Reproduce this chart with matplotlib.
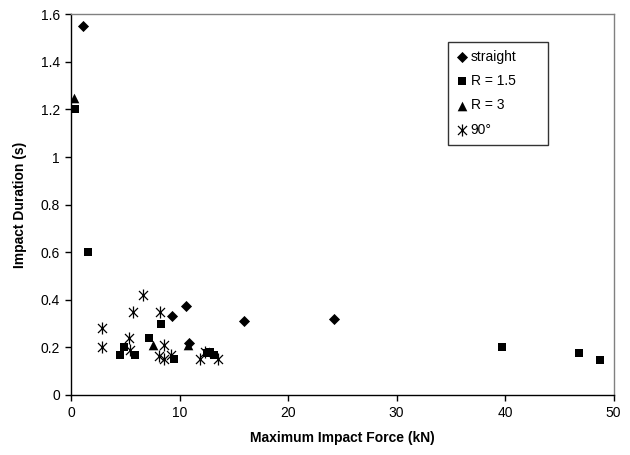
import matplotlib
matplotlib.use("Agg")
import matplotlib.pyplot as plt
from matplotlib.path import Path
from matplotlib.ticker import FuncFormatter

plt.rcParams['font.family'] = ['Liberation Sans', 'DejaVu Sans']

straight_x = [1.13, 9.33, 10.6, 10.9, 15.9, 24.2]
straight_y = [1.55, 0.33, 0.375, 0.22, 0.31, 0.32]

r15_x = [0.37, 1.54, 4.54, 4.91, 5.87, 7.19, 8.26, 9.49, 12.5, 12.8, 13.2, 39.7, 46.8, 48.7]
r15_y = [1.20, 0.60, 0.17, 0.20, 0.17, 0.24, 0.30, 0.15, 0.175, 0.18, 0.17, 0.20, 0.178, 0.147]

r3_x = [0.28, 7.58, 10.75]
r3_y = [1.25, 0.21, 0.21]

d90_x = [2.88, 2.88, 6.61, 5.74, 8.2, 5.37, 5.44, 8.57, 8.1, 8.57, 9.19, 11.9, 12.35, 13.57]
d90_y = [0.28, 0.20, 0.42, 0.35, 0.35, 0.24, 0.19, 0.21, 0.165, 0.15, 0.17, 0.15, 0.18, 0.15]

labels = ['straight', 'R = 1.5', 'R = 3', '90°']

star = Path([(0, -1), (0, 1), (-0.75, -0.75), (0.75, 0.75), (-0.75, 0.75), (0.75, -0.75)],
            [Path.MOVETO, Path.LINETO, Path.MOVETO, Path.LINETO, Path.MOVETO, Path.LINETO])

fig = plt.figure(figsize=(6.3, 4.55), dpi=100)
ax = fig.add_axes([0.1127, 0.1319, 0.974 - 0.1127, 0.9686 - 0.1319])

ax.scatter(straight_x, straight_y, marker='D', s=32, c='black', linewidths=0, label=labels[0], zorder=3)
ax.scatter(r15_x, r15_y, marker='s', s=36, c='black', linewidths=0, label=labels[1], zorder=3)
ax.scatter(r3_x, r3_y, marker='^', s=48, c='black', linewidths=0, label=labels[2], zorder=3)
ax.scatter(d90_x, d90_y, marker=star, s=75, c='black', linewidths=0.9, label=labels[3], zorder=3)

ax.set_xlim(0, 50)
ax.set_ylim(0, 1.6)
ax.set_xticks([0, 10, 20, 30, 40, 50])
ax.set_yticks([0, 0.2, 0.4, 0.6, 0.8, 1.0, 1.2, 1.4, 1.6])
ax.yaxis.set_major_formatter(FuncFormatter(lambda v, p: ('%g' % round(v, 1))))
ax.tick_params(axis='both', direction='out', length=4, width=1, labelsize=10, color='black', pad=4)
for side in ['left', 'bottom']:
    ax.spines[side].set_color('black')
    ax.spines[side].set_linewidth(1)
for side in ['top', 'right']:
    ax.spines[side].set_color('#808080')
    ax.spines[side].set_linewidth(1)

ax.set_xlabel('Maximum Impact Force (kN)', fontsize=10, fontweight='bold', labelpad=8)
ax.set_ylabel('Impact Duration (s)', fontsize=10, fontweight='bold', labelpad=10)

W = 613.7 - 71
H = 395 - 14.3
x0 = (448 - 71) / W
w = (548 - 448) / W
ytop = (395 - 42) / H
h = (138 - 42) / H
leg = ax.legend(loc='upper left', bbox_to_anchor=(x0, ytop - h, w, h), mode='expand',
                fontsize=10, frameon=True, fancybox=False, edgecolor='black', handletextpad=0.2,
                borderpad=0.55, labelspacing=0.75, handlelength=0.9, borderaxespad=0)
leg.get_frame().set_linewidth(1)

fig.savefig('out.png', dpi=100)
